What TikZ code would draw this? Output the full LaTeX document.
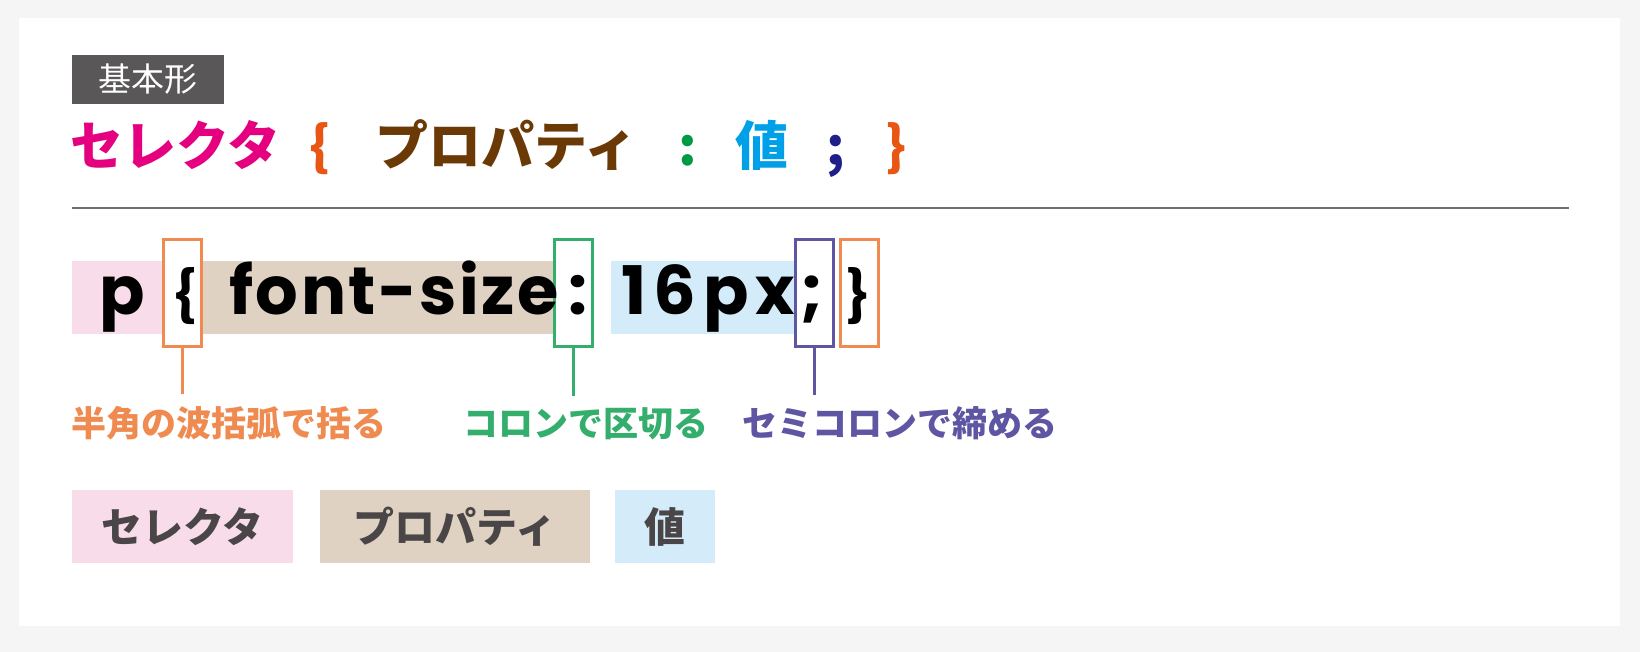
\documentclass[tikz,border=0pt]{standalone}
\usepackage{fontspec}
\usepackage{tikz}
\usetikzlibrary{positioning}
\newfontfamily\jpfont{Noto Sans CJK JP}
\newfontfamily\codefont{Poppins}

\definecolor{pagegray}{HTML}{F5F5F5}
\definecolor{taggray}{HTML}{595757}
\definecolor{rulegray}{HTML}{6E6E6E}
\definecolor{selmag}{HTML}{E4007F}
\definecolor{braceorg}{HTML}{E95513}
\definecolor{propbrown}{HTML}{6A3906}
\definecolor{colgreen}{HTML}{009944}
\definecolor{valcyan}{HTML}{00A0E9}
\definecolor{seminavy}{HTML}{1D2088}
\definecolor{selpink}{HTML}{F9DCEA}
\definecolor{proptan}{HTML}{DFD2C2}
\definecolor{valblue}{HTML}{D4ECF9}
\definecolor{markorg}{HTML}{EF8B50}
\definecolor{markgreen}{HTML}{34AE6C}
\definecolor{markpurple}{HTML}{5E55A3}
\definecolor{legendtext}{HTML}{4A4546}

\tikzset{
  every node/.style={inner sep=0pt},
  headtext/.style={anchor=base west, font=\jpfont\bfseries\fontsize{26.5pt}{26.5pt}\selectfont},
  codetext/.style={anchor=base west, font=\codefont\bfseries\fontsize{33.5pt}{33.5pt}\selectfont\addfontfeature{LetterSpace=#1}},
  codetext/.default=0,
  codebrace/.style={anchor=base west, font=\jpfont\bfseries\fontsize{29pt}{29pt}\selectfont},
  markbox/.style={draw=#1, fill=white, line width=1.5pt, minimum width=19pt, minimum height=53.5pt},
  markline/.style={draw=#1, line width=1.5pt},
  note/.style={anchor=base west, inner ysep=6pt, text=#1, font=\jpfont\bfseries\fontsize{17.5pt}{17.5pt}\selectfont},
  keybox/.style={fill=#1, text=legendtext, minimum height=36.5pt, font=\jpfont\bfseries\fontsize{20.5pt}{20.5pt}\selectfont},
}

\begin{document}
\begin{tikzpicture}[x=0.5pt, y=-0.5pt]
  % page and card
  \fill[pagegray] (0,0) rectangle (1640,652);
  \fill[white] (19,18) rectangle (1620,626);

  % heading
  \node[fill=taggray, text=white, minimum width=76pt, minimum height=24.5pt,
        font=\jpfont\fontsize{16.5pt}{16.5pt}\selectfont] (tag) at (148,79.5) {基本形};
  \node[headtext, text=selmag]    (sel)   at (70,166)  {セレクタ};
  \node[headtext, text=braceorg]  (lbr)   at (309,166) {\{};
  \node[headtext, text=propbrown] (prop)  at (375,166) {プロパティ};
  \node[headtext, text=colgreen]  (col)   at (678,166) {:};
  \node[headtext, text=valcyan]   (val)   at (735,166) {値};
  \node[headtext, text=seminavy]  (semi)  at (826,166) {;};
  \node[headtext, text=braceorg]  (rbr)   at (885,166) {\}};
  \draw[rulegray, line width=1pt] (72,208) -- (1569,208);

  % code sample
  \fill[selpink] (72,261) rectangle (162,334);
  \fill[proptan] (203,261) rectangle (553,334);
  \fill[valblue] (611,261) rectangle (795,334);
  \node[markbox=markorg]    (mlb)   at (182.5,293) {};
  \node[markbox=markgreen]  (mcol)  at (573.5,293) {};
  \node[markbox=markpurple] (msemi) at (814.5,293) {};
  \node[markbox=markorg]    (mrb)   at (859.5,293) {};

  \node[codetext]      (cp)    at (99,315)  {p};
  \node[codebrace]     (clb)   at (174,315) {\{};
  \node[codetext=3.7]  (cprop) at (229,315) {font-size};
  \node[codetext]      (ccol)  at (568,315) {:};
  \node[codetext=10.5] (cval)  at (621,315) {16px};
  \node[codetext]      (csemi) at (800,315) {;};
  \node[codebrace]     (crb)   at (845,315) {\}};

  % notes
  \node[note=markorg]    (nlb)   at (71,437)  {半角の波括弧で括る};
  \node[note=markgreen]  (ncol)  at (463,437) {コロンで区切る};
  \node[note=markpurple] (nsemi) at (742,437) {セミコロンで締める};
  \draw[markline=markorg]    (mlb.south)   -- (mlb.south |- nlb.north);
  \draw[markline=markgreen]  (mcol.south)  -- (mcol.south |- ncol.north);
  \draw[markline=markpurple] (msemi.south) -- (msemi.south |- nsemi.north);

  % key
  \node[keybox=selpink, minimum width=110.5pt] (ksel) at (182.5,526.5) {セレクタ};
  \node[keybox=proptan, minimum width=135pt, right=13pt of ksel] (kprop) {プロパティ};
  \node[keybox=valblue, minimum width=50pt, right=12pt of kprop] (kval) {値};
\end{tikzpicture}
\end{document}
